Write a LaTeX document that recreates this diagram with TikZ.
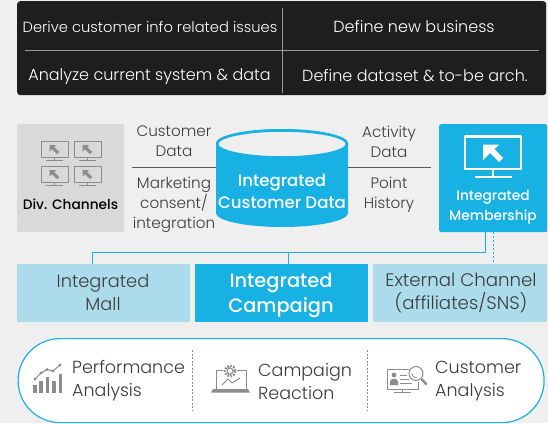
\documentclass[tikz,border=0pt]{standalone}
\usepackage{fontspec}
\setmainfont{Poppins}[UprightFont=* Light,BoldFont=* Medium]
\definecolor{bgc}{HTML}{EFEFEF}
\definecolor{cy}{HTML}{17B2E3}
\definecolor{lb}{HTML}{ACDCEC}
\definecolor{dk}{HTML}{1E1E1C}
\definecolor{tx}{HTML}{3C3C3C}
\definecolor{ic}{HTML}{8C8C8C}
\newcommand{\fs}[2]{\fontsize{#1}{#2}\selectfont}
\tikzset{
 box/.style={inner sep=0pt,align=center,anchor=north west},
 lab/.style={inner sep=0pt,align=center,text=tx,font=\fs{15.2}{20}},
 dlab/.style={inner sep=0pt,align=center,text=white,font=\fs{16}{20}},
 ilab/.style={inner sep=0pt,align=left,anchor=west,text=tx,font=\fs{17.5}{23}},
 bluel/.style={cy,line width=1pt},
 grayl/.style={draw=tx!85,line width=1pt}
}
\begin{document}
\begin{tikzpicture}[x=1pt,y=-1pt,line join=round]
\useasboundingbox (0,0) rectangle (548,423);
\fill[bgc] (0,0) rectangle (548,423);
% top panel
\node[box,fill=dk,rounded corners=3pt,minimum width=529pt,minimum height=94pt] (panel) at (17,1) {};
\coordinate (vt) at (282,8); \coordinate (vb) at (282,93);
\coordinate (hl) at (25,50); \coordinate (hr) at (539,50);
\draw[gray!80,line width=.8pt] (vt) -- (vb);
\draw[gray!80,line width=.8pt] (hl) -- (hr);
\node[dlab,font=\fs{14.7}{20}] (t1) at (150,27) {Derive customer info related issues};
\node[dlab] (t2) at (414,27) {Define new business};
\node[dlab] (t3) at (149.5,76.5) {Analyze current system \& data};
\node[dlab] (t4) at (415,76) {Define dataset \& to-be arch.};
% div channels
\node[box,fill=black!15,rounded corners=2pt,minimum width=107pt,minimum height=108pt] (div) at (17,124) {};
\node[inner sep=0pt,text=black,font=\fs{13.7}{15}\bfseries] (divt) at (70.5,204) {Div. Channels};
\foreach \x/\y in {41/141,74/141,41/166,74/166}{
 \begin{scope}[shift={(\x,\y)}]
 \draw[ic,line width=1pt] (0,0) rectangle (27,16);
 \draw[ic,line width=1pt] (13.5,16) -- (13.5,19) (5,19.5) -- (22,19.5);
 \fill[ic] (8.5,4) -- (15,4) -- (13,6) -- (18.5,11) -- (16,13) -- (11,8) -- (8.5,10.5) -- cycle;
 \end{scope}}
% database
\path[fill=cy] (216,143.5) -- (216,213) arc[start angle=180,end angle=0,x radius=66,y radius=14] -- (348,143.5) arc[start angle=0,end angle=-180,x radius=66,y radius=14.5] -- cycle;
\draw[fill=bgc,draw=cy,line width=2.5pt] (282,144) ellipse[x radius=65,y radius=13.5];
\node[inner sep=0pt,minimum width=132pt,minimum height=98pt] (db) at (282,178) {};
\node[inner sep=0pt,align=center,text=white,font=\fs{16.6}{22}\bfseries] (dbt) at (282,191) {Integrated\\Customer Data};
\coordinate (la) at (132,167); \coordinate (ra) at (431,167);
\draw[grayl] (la) -- (db.west |- la);
\draw[grayl] (ra) -- (db.east |- ra);
\node[lab] (a1) at (174,141.5) {Customer\\Data};
\node[lab] (a2) at (174,204.5) {Marketing\\consent/\\integration};
\node[lab] (a3) at (389,141.5) {Activity\\Data};
\node[lab] (a4) at (389,195) {Point\\History};
% membership
\node[box,fill=cy,rounded corners=2pt,minimum width=108pt,minimum height=108pt] (mem) at (439,124) {};
\draw[white,line width=2.2pt] (465,136.5) rectangle (521,169);
\draw[white,line width=2pt] (493,169) -- (493,176) (475,176.5) -- (512,176.5);
\fill[white] (483,144.5) -- (499,144.5) -- (494.5,149) -- (503,158) -- (499,162) -- (490,153) -- (483,160) -- cycle;
\node[inner sep=0pt,align=center,text=white,font=\fs{13.8}{19.5}\bfseries] (memt) at (493,207) {Integrated\\Membership};
% lower boxes
\node[box,fill=lb,minimum width=173pt,minimum height=58pt] (mall) at (17,264) {};
\node[box,fill=cy,minimum width=173pt,minimum height=58pt] (camp) at (195,264) {};
\node[box,fill=lb,minimum width=174pt,minimum height=58pt] (ext) at (373,264) {};
\node[lab,font=\fs{17.8}{23}] (mallt) at (103,292.5) {Integrated\\Mall};
\node[inner sep=0pt,align=center,text=white,font=\fs{19.4}{25}\bfseries] (campt) at (281,295) {Integrated\\Campaign};
\node[lab,font=\fs{18.2}{23}] (extt) at (461,292.5) {External Channel\\(affiliates/SNS)};
% connectors
\coordinate (busR) at (485,252); \coordinate (busL) at (92,252); \coordinate (busM) at (288,252); \coordinate (dot) at (493,240);
\draw[bluel] (mem.south -| busR) -- (busR) -- (busL) -- (mall.north -| busL);
\draw[bluel] (busM) -- (camp.north -| busM);
\draw[cy,line width=1pt,dash pattern=on 2pt off 2pt] (mem.south -| dot) -- (ext.north -| dot);
% pill
\node[box,fill=white,draw=cy,line width=1.2pt,rounded corners=42pt,minimum width=526pt,minimum height=84pt] (pill) at (17.5,338) {};
\coordinate (d1t) at (192,350); \coordinate (d1b) at (192,410);
\coordinate (d2t) at (367,350); \coordinate (d2b) at (367,410);
\draw[ic,line width=.8pt,dash pattern=on 2pt off 1.5pt] (d1t) -- (d1b);
\draw[ic,line width=.8pt,dash pattern=on 2pt off 1.5pt] (d2t) -- (d2b);
\node[ilab] (p1) at (72,381) {Performance\\Analysis};
\node[ilab] (p2) at (258,381) {Campaign\\Reaction};
\node[ilab] (p3) at (435,381) {Customer\\Analysis};
% performance icon
\foreach \x/\h in {33/8,39/12,45.5/16,52/12,58.5/19}{\fill[ic] (\x,393) rectangle (\x+3.7,393-\h);}
\draw[ic,line width=1pt] (35,379) -- (41,373) -- (47,369.5) -- (53,371) -- (60,365);
\foreach \x/\y in {35/379,41/373,47/369.5,53/371,60/365}{\fill[ic] (\x,\y) circle (1.6);}
% campaign icon
\draw[ic,line width=1pt] (216,389) -- (216,370.5) -- (223,370.5) (237,370.5) -- (246,370.5) -- (246,389);
\fill[ic] (211,392.5) -- (250,392.5) -- (248,389) -- (213,389) -- cycle;
\draw[ic,line width=1pt] (222,385) -- (228,379) -- (232,383) -- (240,378);
\draw[ic,line width=2.6pt,dash pattern=on 1.6pt off 1.4pt] (230,371) circle (5.2);
\draw[ic,line width=1pt,fill=white] (230,371) circle (3);
% customer icon
\draw[ic,line width=1pt] (387,369.5) -- (409,369.5) (387,369.5) -- (387,389) -- (418,389) -- (418,382);
\draw[ic,line width=1pt] (402,389) -- (402,392) (394,392.5) -- (411,392.5);
\fill[ic] (394,375) circle (2.4);
\fill[ic] (390,385) -- (390,381.5) arc[start angle=180,end angle=360,x radius=4,y radius=2.8] -- (398,385) -- cycle;
\draw[ic,line width=.8pt] (400,375) -- (407,375) (400,379) -- (409,379) (400,383) -- (412,383);
\draw[ic,line width=1pt,fill=white] (416,373.5) circle (7);
\draw[ic,line width=.8pt] (412,373) arc[start angle=190,end angle=80,radius=4] ;
\draw[ic,line width=2.4pt] (421.5,379) -- (426.5,384.5);
\end{tikzpicture}
\end{document}
